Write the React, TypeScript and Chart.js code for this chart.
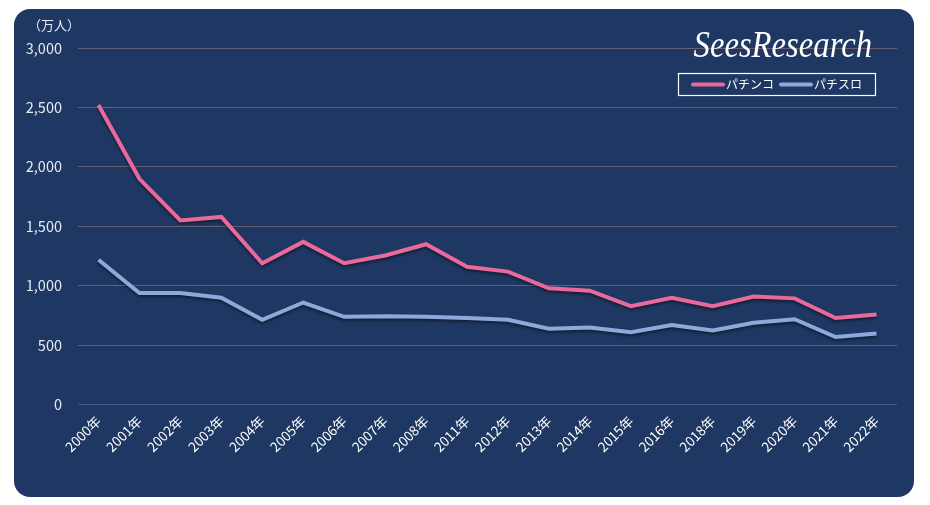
import React, { useEffect, useRef } from "react";
import { Chart, registerables } from "chart.js";

Chart.register(...registerables);

const categories = ["2000年","2001年","2002年","2003年","2004年","2005年","2006年","2007年","2008年","2011年","2012年","2013年","2014年","2015年","2016年","2018年","2019年","2020年","2021年","2022年"];
const pachinko = [2520,1900,1550,1580,1190,1370,1190,1255,1350,1160,1120,980,960,830,900,830,910,895,730,760];
const pachislot = [1220,940,940,900,715,860,740,745,740,730,715,640,650,610,670,625,690,720,570,600];
const yTicks = [0,500,1000,1500,2000,2500,3000];
const seriesNames = ["パチンコ","パチスロ"];
const unitLabel = "（万人）";
const brand = "SeesResearch";

const PINK = "#e8699a";
const BLUE = "#8ea8dc";
const FONT = "'Noto Sans CJK JP', 'Noto Sans', sans-serif";

export default function App() {
  const ref = useRef<HTMLCanvasElement | null>(null);
  useEffect(() => {
    if (!ref.current) return;
    const overlay = {
      id: "overlay",
      beforeDatasetsDraw(chart: any) {
        const ctx = chart.ctx;
        ctx.save();
        ctx.shadowColor = "rgba(0,0,0,0.45)";
        ctx.shadowBlur = 3;
        ctx.shadowOffsetY = 2;
      },
      afterDatasetsDraw(chart: any) {
        chart.ctx.restore();
      },
      afterDraw(chart: any) {
        const ctx = chart.ctx;
        ctx.save();
        // unit label
        ctx.fillStyle = "#e6ebf3";
        ctx.font = `13px ${FONT}`;
        ctx.textBaseline = "middle";
        ctx.textAlign = "left";
        ctx.fillText(unitLabel, 14, 16);
        // brand
        ctx.fillStyle = "#ffffff";
        ctx.font = `italic 38px 'Liberation Serif', 'DejaVu Serif', serif`;
        ctx.textAlign = "right";
        ctx.textBaseline = "alphabetic";
        ctx.save();
        ctx.translate(858, 48);
        ctx.scale(0.86, 1);
        ctx.fillText(brand, 0, 0);
        ctx.restore();
        // legend box
        const bx = 664, by = 64, bw = 197, bh = 22;
        ctx.strokeStyle = "#ffffff";
        ctx.lineWidth = 1.2;
        ctx.strokeRect(bx + 0.5, by + 0.5, bw, bh);
        const ds = chart.data.datasets;
        const starts = [679, 767];
        ds.forEach((d: any, i: number) => {
          const sx = starts[i];
          const cy = by + bh / 2 + 0.5;
          ctx.strokeStyle = d.borderColor;
          ctx.lineWidth = 4;
          ctx.lineCap = "round";
          ctx.beginPath();
          ctx.moveTo(sx, cy);
          ctx.lineTo(sx + 30, cy);
          ctx.stroke();
          ctx.fillStyle = "#ffffff";
          ctx.font = `12px ${FONT}`;
          ctx.textAlign = "left";
          ctx.textBaseline = "middle";
          ctx.fillText(d.label, sx + 33, cy);
        });
        ctx.restore();
      },
    };
    const chart = new Chart(ref.current, {
      type: "line",
      data: {
        labels: categories,
        datasets: [
          { label: seriesNames[0], data: pachinko, borderColor: PINK, backgroundColor: PINK, borderWidth: 4, pointRadius: 0, tension: 0 },
          { label: seriesNames[1], data: pachislot, borderColor: BLUE, backgroundColor: BLUE, borderWidth: 4, pointRadius: 0, tension: 0 },
        ],
      },
      options: {
        animation: false,
        responsive: false,
        layout: { padding: { top: 39, right: 17, bottom: 42, left: 0 } },
        plugins: { legend: { display: false }, tooltip: { enabled: false } },
        scales: {
          x: {
            offset: true,
            grid: { display: false },
            border: { display: false },
            ticks: { color: "#ffffff", font: { family: FONT, size: 13.5 }, maxRotation: 45, minRotation: 45, padding: 0, autoSkip: false },
          },
          y: {
            min: 0,
            max: 3000,
            afterBuildTicks(scale: any) {
              scale.ticks = yTicks.map((v) => ({ value: v }));
            },
            afterFit(scale: any) {
              scale.width = 64;
            },
            grid: {
              drawTicks: false,
              color: (c: any) => (c.tick && c.tick.value === 0 ? "#3d5a8a" : "#6a5f70"),
              lineWidth: 1,
            },
            border: { display: false },
            ticks: {
              color: "#e6ebf3",
              padding: 16,
              font: { family: FONT, size: 14.5 },
              callback: (v: any) => Number(v).toLocaleString("en-US"),
            },
          },
        },
      },
      plugins: [overlay],
    });
    return () => chart.destroy();
  }, []);
  return (
    <div style={{ position: "absolute", left: 14, top: 9, width: 900, height: 488, background: "#1f3763", borderRadius: 16, overflow: "hidden" }}>
      <canvas ref={ref} width={900} height={488} style={{ display: "block" }} />
    </div>
  );
}
